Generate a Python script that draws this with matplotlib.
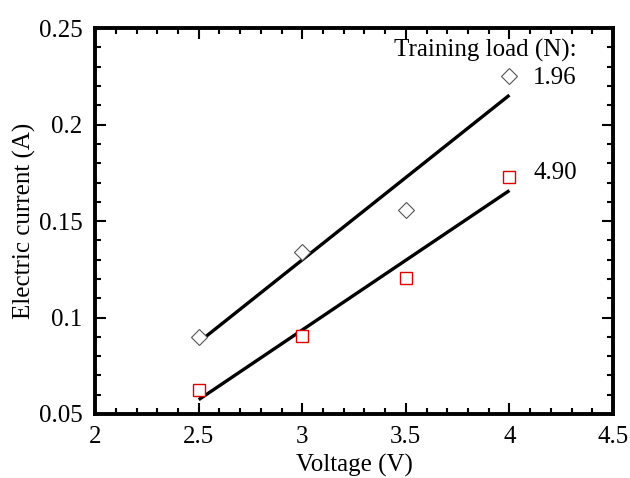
import numpy as np
import matplotlib
matplotlib.use("Agg")
import matplotlib.pyplot as plt
from matplotlib.ticker import MultipleLocator, FuncFormatter

plt.rcParams['font.family'] = ['Liberation Serif', 'DejaVu Serif']

# data
voltage = [2.5, 3.0, 3.5, 4.0]
current_196 = [0.090, 0.134, 0.156, 0.225]
current_490 = [0.0625, 0.0905, 0.1205, 0.173]
loads = ['1.96', '4.90']

fig = plt.figure(figsize=(6.3, 4.78), dpi=100)
ax = fig.add_axes([0.151, 0.134, 0.822, 0.807])

x = np.array(voltage)
for y in (current_196, current_490):
    k, b = np.polyfit(x, y, 1)
    ax.plot(x[[0, -1]], k * x[[0, -1]] + b, color='black', lw=2.4, solid_capstyle='butt', zorder=2)

ax.plot(voltage, current_196, ls='none', marker='D', ms=8, mfc='white', mec='#555555', mew=0.8, zorder=3)
ax.plot(voltage, current_490, ls='none', marker='s', ms=8, mfc='white', mec='#dd0000', mew=1.0, zorder=3)

ax.text(4.326, 0.2386, 'Training load (N):', fontsize=18, ha='right', va='center')
ax.text(4.326, 0.2240, loads[0], fontsize=18, ha='right', va='center')
ax.text(4.326, 0.1750, loads[1], fontsize=18, ha='right', va='center')

ax.set_xlim(2, 4.5)
ax.set_ylim(0.05, 0.25)
ax.xaxis.set_major_locator(MultipleLocator(0.5))
ax.xaxis.set_minor_locator(MultipleLocator(0.1))
ax.yaxis.set_major_locator(MultipleLocator(0.05))
ax.yaxis.set_minor_locator(MultipleLocator(0.01))
ax.xaxis.set_major_formatter(FuncFormatter(lambda v, p: f'{v:g}'))
ax.yaxis.set_major_formatter(FuncFormatter(lambda v, p: f'{v:g}'))

ax.tick_params(which='both', direction='in', top=True, right=True, labelsize=18, width=1.5)
ax.tick_params(which='major', length=8, pad=9)
ax.tick_params(which='minor', length=4)
for s in ax.spines.values():
    s.set_linewidth(2.8)

ax.set_xlabel('Voltage (V)', fontsize=18, labelpad=4)
ax.set_ylabel('Electric current (A)', fontsize=18, labelpad=2)

fig.savefig('out.png', dpi=100)
